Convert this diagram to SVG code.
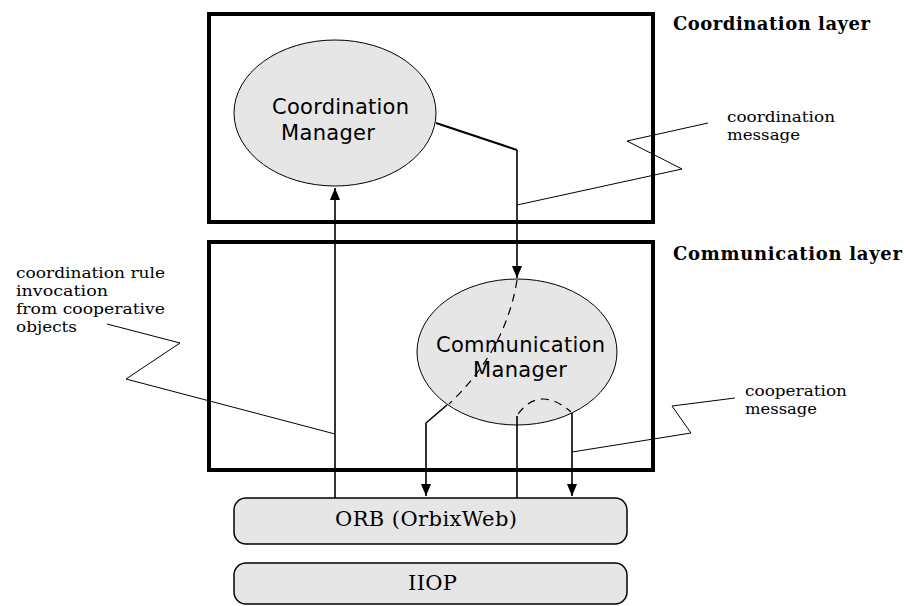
<svg xmlns="http://www.w3.org/2000/svg" width="904" height="606" viewBox="0 0 904 606">
<style>
.layer{fill:none;stroke:#000;stroke-width:4}
.ell{fill:#e6e6e6;stroke:#000;stroke-width:1}
.bar{fill:#e6e6e6;stroke:#000;stroke-width:1.5}
.sans{font-family:"DejaVu Sans","Liberation Sans",sans-serif;font-size:21px;fill:#000}
.serif{font-family:"DejaVu Serif","Liberation Serif",serif;font-size:15px;fill:#000}
.big{font-family:"DejaVu Serif","Liberation Serif",serif;font-size:21px;fill:#000}
.bold{font-family:"DejaVu Serif","Liberation Serif",serif;font-size:18px;font-weight:bold;fill:#000}
.ln{fill:none;stroke:#000;stroke-width:1.6}
.thick{fill:none;stroke:#000;stroke-width:2}
.lead{fill:none;stroke:#000;stroke-width:1}
.dash{fill:none;stroke:#000;stroke-width:1.2;stroke-dasharray:8 6}
</style>
<defs>
<marker id="arr" viewBox="0 0 10 10" refX="10" refY="5" markerWidth="12" markerHeight="12" markerUnits="userSpaceOnUse" orient="auto">
<path d="M0,0.8 L10,5 L0,9.2 Z" fill="#000"/>
</marker>
</defs>
<g id="coordination-layer">
<rect class="layer" x="209" y="14" width="444" height="208"/>
<text class="bold" x="673" y="30" textLength="197">Coordination layer</text>
</g>
<g id="communication-layer">
<rect class="layer" x="209" y="242" width="444" height="228"/>
<text class="bold" x="673" y="260" textLength="229">Communication layer</text>
</g>
<g id="coordination-manager">
<ellipse class="ell" cx="335" cy="113" rx="101" ry="73"/>
<text class="sans" x="272" y="114" textLength="137">Coordination</text>
<text class="sans" x="281" y="140" textLength="94">Manager</text>
</g>
<g id="communication-manager">
<ellipse class="ell" cx="517" cy="352" rx="100" ry="73"/>
<text class="sans" x="436" y="352" textLength="169">Communication</text>
<text class="sans" x="473" y="377" textLength="94">Manager</text>
</g>
<g id="orb">
<rect class="bar" x="234" y="498" width="393" height="46" rx="12"/>
<text class="big" x="335" y="526" textLength="182">ORB (OrbixWeb)</text>
</g>
<g id="iiop">
<rect class="bar" x="234" y="563" width="393" height="41" rx="12"/>
<text class="big" x="408" y="590" textLength="49">IIOP</text>
</g>
<g id="labels">
<text class="serif" x="16" y="278" textLength="149" lengthAdjust="spacingAndGlyphs">coordination rule</text>
<text class="serif" x="16" y="296" textLength="92" lengthAdjust="spacingAndGlyphs">invocation</text>
<text class="serif" x="16" y="314" textLength="149" lengthAdjust="spacingAndGlyphs">from cooperative</text>
<text class="serif" x="16" y="332" textLength="61" lengthAdjust="spacingAndGlyphs">objects</text>
<text class="serif" x="727" y="122" textLength="108" lengthAdjust="spacingAndGlyphs">coordination</text>
<text class="serif" x="727" y="140" textLength="73" lengthAdjust="spacingAndGlyphs">message</text>
<text class="serif" x="745" y="396" textLength="102" lengthAdjust="spacingAndGlyphs">cooperation</text>
<text class="serif" x="745" y="414" textLength="72" lengthAdjust="spacingAndGlyphs">message</text>
</g>
<g id="connectors">
<path class="ln" d="M335,498 V188" marker-end="url(#arr)"/>
<path class="thick" d="M436,123 L517,150"/>
<path class="ln" d="M517,150 V278" marker-end="url(#arr)"/>
<path class="dash" d="M517,280 Q506,350 449,404"/>
<path class="ln" d="M447,405 L426,423 V496" marker-end="url(#arr)"/>
<path class="ln" d="M517,498 V416"/>
<path class="dash" d="M518,414 Q540,385 571,412"/>
<path class="ln" d="M572,413 V496" marker-end="url(#arr)"/>
<path class="lead" d="M708,123 L627,141 L682,169 L517,205"/>
<path class="lead" d="M735,398 L672,406 L691,433 L572,452"/>
<path class="lead" d="M107,324 L180,343 L126,379 L335,434"/>
</g>
</svg>
